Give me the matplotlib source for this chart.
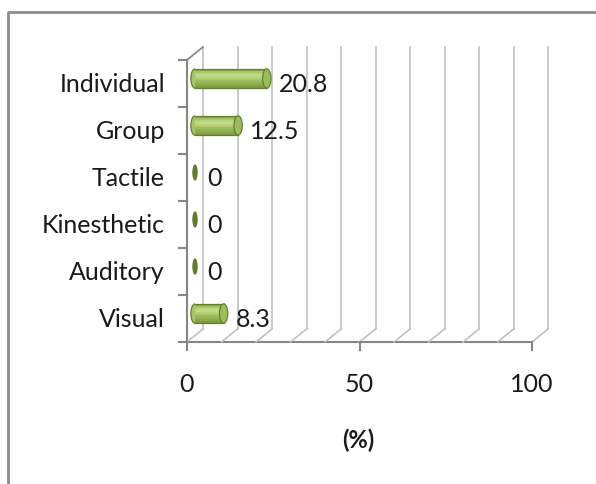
import matplotlib
matplotlib.use('Agg')
import matplotlib.pyplot as plt
import matplotlib.transforms as mtransforms
from matplotlib.patches import Ellipse, Arc
from matplotlib.lines import Line2D
import numpy as np

# survey results (%)
categories = ['Visual', 'Auditory', 'Kinesthetic', 'Tactile', 'Group', 'Individual']
values = [8.3, 0, 0, 0, 12.5, 20.8]
x_ticks = [0, 50, 100]

plt.rcParams['font.family'] = ['Lato', 'DejaVu Sans']
FS = 18
TXT = '#1a1a1a'

W, H = 596, 485
fig = plt.figure(figsize=(W / 100, H / 100), dpi=100)
ax = fig.add_axes([187 / W, 142 / H, 345 / W, 282 / H])
ax.set_xlim(0, 100)
ax.set_ylim(0, len(categories))
ax.axis('off')

# depth offsets for the pseudo 3d look
back = mtransforms.offset_copy(ax.transData, fig, x=16, y=13, units='dots')
mid = mtransforms.offset_copy(ax.transData, fig, x=8, y=5, units='dots')

grid_c = '#c0c0c0'
axis_c = '#868686'
n = len(categories)

# back wall gridlines and floor diagonals
for v in range(0, 101, 10):
    ax.plot([v, v], [0, n], color=grid_c, lw=1.2, transform=back, clip_on=False)
    bx, by = back.transform((v, 0))
    fx, fy = ax.transData.transform((v, 0))
    fig.add_artist(Line2D([fx / W, bx / W], [fy / H, by / H], color=grid_c, lw=1.2))

# left wall
ax.plot([0, 0], [0, n], color=axis_c, lw=1.5, clip_on=False)
tx, ty = ax.transData.transform((0, n))
bx, by = back.transform((0, n))
fig.add_artist(Line2D([tx / W, bx / W], [ty / H, by / H], color=axis_c, lw=1.2))
for k in range(n + 1):
    x0, y0 = ax.transData.transform((0, k))
    fig.add_artist(Line2D([(x0 - 8) / W, x0 / W], [y0 / H, y0 / H], color=axis_c, lw=1.5))

# floor front edge and ticks
ax.plot([0, 100], [0, 0], color=axis_c, lw=1.5, clip_on=False)
for v in x_ticks:
    x0, y0 = ax.transData.transform((v, 0))
    fig.add_artist(Line2D([x0 / W, x0 / W], [y0 / H, (y0 - 8) / H], color=axis_c, lw=1.5))
    ax.text(v, 0, str(v), transform=ax.transData + mtransforms.ScaledTranslation(0, -42 / 100, fig.dpi_scale_trans),
            ha='center', va='center', fontsize=FS, color=TXT)

# cylinders
h = 0.41
shades = ['#8aa84a', '#a8c767', '#bcd683', '#c0d98a', '#b4d176', '#a7c565',
          '#9cbb5a', '#93b252', '#88a74a', '#7d9b42']
edge_c = '#63802c'
for i, (cat, v) in enumerate(zip(categories, values)):
    yc = i + 0.5
    cap_w = 2.4
    if v > 0:
        ax.add_patch(Ellipse((0, yc), cap_w, h, transform=mid, facecolor=shades[5],
                             edgecolor='none', clip_on=False, zorder=3))
        edges = np.linspace(yc + h / 2, yc - h / 2, len(shades) + 1)
        for c, y_top, y_bot in zip(shades, edges[:-1], edges[1:]):
            ax.barh((y_top + y_bot) / 2, v, height=y_top - y_bot, left=0, color=c,
                    edgecolor=c, linewidth=0.5, transform=mid, clip_on=False, zorder=3)
        for y_e in (yc + h / 2, yc - h / 2):
            ax.plot([0, v], [y_e, y_e], color=edge_c, lw=0.9, transform=mid, clip_on=False, zorder=4)
        ax.add_patch(Arc((0, yc), cap_w, h, theta1=90, theta2=270, transform=mid,
                         edgecolor=edge_c, lw=0.9, clip_on=False, zorder=4))
        ax.add_patch(Ellipse((v, yc), cap_w, h, transform=mid, facecolor='#9dbc5b',
                             edgecolor=edge_c, lw=0.9, clip_on=False, zorder=4))
    else:
        ax.add_patch(Ellipse((0, yc), cap_w * 0.65, h * 0.85, transform=mid, facecolor='#5f7e2d',
                             edgecolor='none', clip_on=False, zorder=4))
    lbl = f'{v:g}'
    lx, _ = mid.transform((v, yc))
    _, ly = ax.transData.transform((v, yc))
    fig.text((lx + 12) / W, ly / H, lbl, ha='left', va='center', fontsize=FS, color=TXT)
    ax.text(0, yc, cat, transform=ax.transData + mtransforms.ScaledTranslation(-22 / 100, 0, fig.dpi_scale_trans),
            ha='right', va='center', fontsize=FS, color=TXT)

fig.text(358 / W, 1 - 440 / H, '(%)', ha='center', va='center', fontsize=FS - 1, fontweight='bold', color=TXT)

# outer chart border
fig.add_artist(Line2D([8 / W, 8 / W, 1], [0, 1 - 13 / H, 1 - 13 / H], color='#8c8c8c', lw=2))

fig.savefig('out.png', dpi=100, facecolor='white')
